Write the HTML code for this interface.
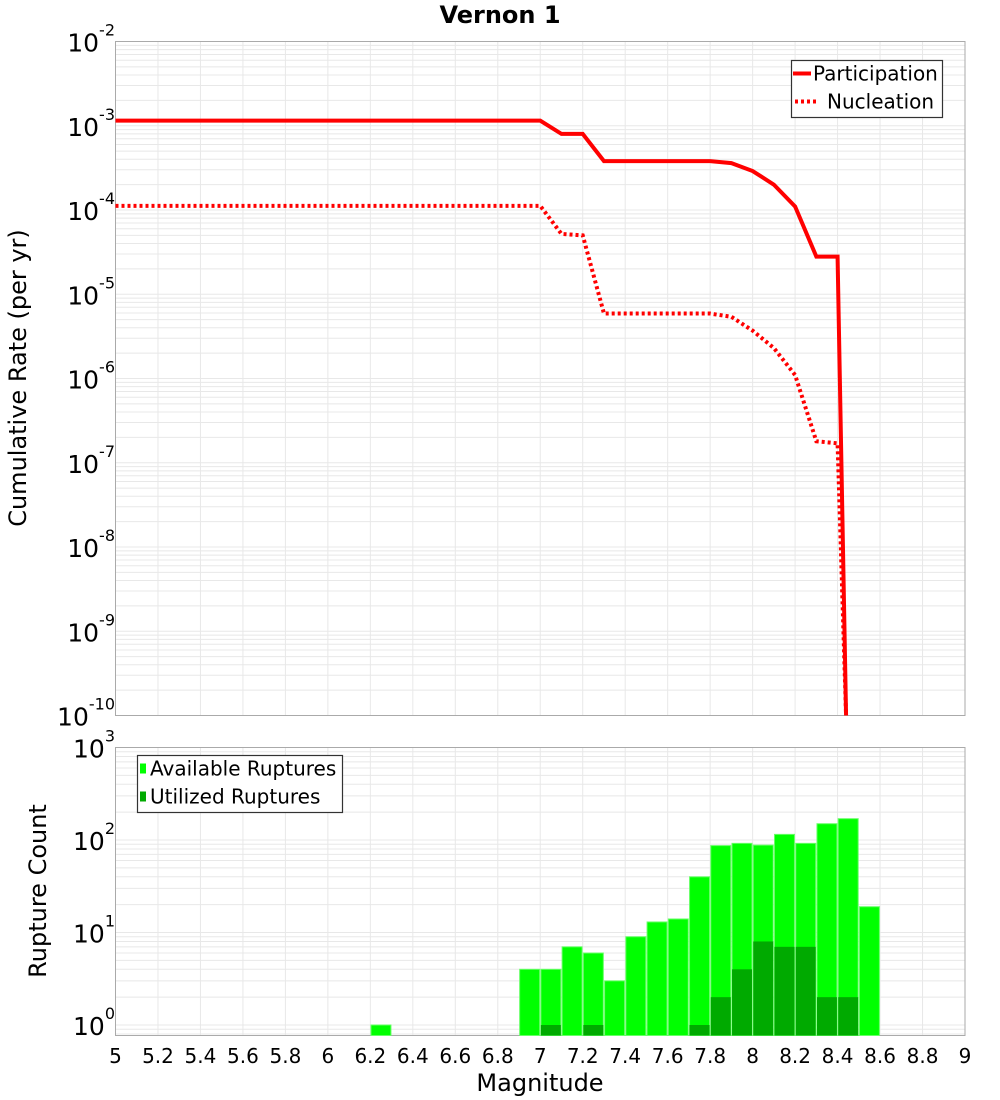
<!DOCTYPE html>
<html><head><meta charset="utf-8"><style>
html,body{margin:0;padding:0;background:#fff;}
svg{display:block;font-family:"DejaVu Sans","Liberation Sans",sans-serif;}
</style></head><body>
<svg id="chart" width="1000" height="1100" xmlns="http://www.w3.org/2000/svg">
<text x="500" y="23" text-anchor="middle" font-size="24" font-weight="bold">Vernon 1</text>
<g id="topPlot"></g>
<g id="botPlot"></g>
<text transform="translate(26,378) rotate(-90)" text-anchor="middle" font-size="24">Cumulative Rate (per yr)</text>
<text transform="translate(46,891) rotate(-90)" text-anchor="middle" font-size="24">Rupture Count</text>
<text x="540" y="1091" text-anchor="middle" font-size="24">Magnitude</text>
</svg>
<script>
const partMags = [5.0,7.0,7.1,7.2,7.3,7.8,7.9,8.0,8.1,8.2,8.3,8.4,8.44];
const partRates = [1.15e-3,1.15e-3,8e-4,8e-4,3.8e-4,3.8e-4,3.6e-4,2.9e-4,2.0e-4,1.1e-4,2.8e-5,2.8e-5,1e-10];
const nuclMags = [5.0,7.0,7.1,7.2,7.3,7.8,7.9,8.0,8.1,8.2,8.3,8.4,8.44];
const nuclRates = [1.12e-4,1.12e-4,5.2e-5,5.0e-5,5.9e-6,5.9e-6,5.4e-6,3.7e-6,2.3e-6,1.1e-6,1.8e-7,1.7e-7,1e-10];
const binCenters = [6.25,6.95,7.05,7.15,7.25,7.35,7.45,7.55,7.65,7.75,7.85,7.95,8.05,8.15,8.25,8.35,8.45,8.55];
const availCounts = [1,4,4,7,6,3,9,13,14,40,87,92,88,115,92,150,170,19];
const usedCounts = [0,0,1,0,1,0,0,0,0,1,2,4,8,7,7,2,2,0];
const xTicks = [5,5.2,5.4,5.6,5.8,6,6.2,6.4,6.6,6.8,7,7.2,7.4,7.6,7.8,8,8.2,8.4,8.6,8.8,9];
const topExps = [-2,-3,-4,-5,-6,-7,-8,-9,-10];
const botExps = [3,2,1,0];

const NS="http://www.w3.org/2000/svg";
const X0=115.5,X1=965, XMIN=5,XMAX=9;
const xs=v=>X0+(v-XMIN)/(XMAX-XMIN)*(X1-X0);
const TY0=41.5,TY1=715.5;
const yTop=v=>TY0+(-2-Math.log10(v))/8*(TY1-TY0);
const BY0=747.5,BY1=1035.5,B10=1025;
const yBot=v=>B10-Math.log10(v)*(B10-BY0)/3;
function el(tag,attrs,parent){const e=document.createElementNS(NS,tag);for(const k in attrs)e.setAttribute(k,attrs[k]);parent.appendChild(e);return e;}
const gTop=document.getElementById('topPlot'),gBot=document.getElementById('botPlot');

function grid(g,y0,y1,yf,emin,emax){
  for(const t of xTicks){const l=el('line',{x1:xs(t),x2:xs(t),y1:y0,y2:y1,stroke:'#e8e8e8','stroke-width':1},g);
    
    }
  for(let e=emin;e<emax;e++)for(let m=1;m<10;m++){const yy=yf(m*Math.pow(10,e));if(yy<y0||yy>y1)continue;
    const l=el('line',{x1:X0,x2:X1,y1:yy,y2:yy,stroke:'#e8e8e8','stroke-width':1},g);
    
    }
  const r=el('rect',{x:X0,y:y0,width:X1-X0,height:y1-y0,fill:'none',stroke:'#aaa','stroke-width':1},g);
  
  
}
grid(gTop,TY0,TY1,yTop,-10,-2);
grid(gBot,BY0,BY1,yBot,-1,3);

function yLabel(g,yy,e){const t=el('text',{x:101,y:yy+10,'text-anchor':'end','font-size':25},g);
  
  
  t.textContent='10';
  const s=el('tspan',{dy:-16,'font-size':16},t);s.textContent=String(e);
  t.setAttribute('transform','translate(14,0)');}
for(const e of topExps)yLabel(gTop,yTop(Math.pow(10,e)),e);
for(const e of botExps)yLabel(gBot,yBot(Math.pow(10,e)),e);
for(const t of xTicks){const tx=el('text',{x:xs(t),y:1063,'text-anchor':'middle','font-size':20},gBot);
  
  
  tx.textContent=String(t);}

const defs=el('defs',{},gTop);const cp=el('clipPath',{id:'tc'},defs);el('rect',{x:X0,y:TY0,width:X1-X0,height:TY1-TY0},cp);
function line(ms,rs,dash,name){const p=el('polyline',{points:ms.map((m,i)=>xs(m)+','+yTop(rs[i])).join(' '),fill:'none',stroke:'#ff0000','stroke-width':4,'clip-path':'url(#tc)'},gTop);
  if(dash)p.setAttribute('stroke-dasharray','3,3');
  
  }
line(nuclMags,nuclRates,true,'nucleation-line');
line(partMags,partRates,false,'participation-line');

binCenters.forEach((c,i)=>{
  const bx=xs(c-0.047),bw=xs(c+0.047)-bx;
  if(availCounts[i]>0){const yy=yBot(availCounts[i]);const r=el('rect',{x:bx,y:yy,width:bw,height:BY1-yy,fill:'#00ff00',stroke:'#66ff66','stroke-width':1},gBot);
    
    }
  if(usedCounts[i]>0){const yy=yBot(usedCounts[i]);const r=el('rect',{x:bx,y:yy,width:bw,height:BY1-yy,fill:'#00aa00'},gBot);
    
    }
});

function legend(g,bx,by,bw,bh,items,name){const lg=el('g',{},g);
  
  
  el('rect',{x:bx,y:by,width:bw,height:bh,fill:'#fff',stroke:'#333','stroke-width':1.2},lg);
  items.forEach((it,i)=>{const cy=by+13+i*28;it.draw(lg,cy);const t=el('text',{x:it.tx,y:cy+7,'font-size':20},lg);
    
    
    t.textContent=it.label;});}
legend(gTop,791.5,60.5,151,57,[
  {label:'Participation',tx:813,draw:(g,cy)=>el('line',{x1:793,x2:811,y1:cy,y2:cy,stroke:'#f00','stroke-width':4},g)},
  {label:'Nucleation',tx:827,draw:(g,cy)=>el('line',{x1:795,x2:819,y1:cy,y2:cy,stroke:'#f00','stroke-width':4,'stroke-dasharray':'3,3'},g)}
],'rate-legend');
legend(gBot,137.5,755.5,205,57,[
  {label:'Available Ruptures',tx:150,draw:(g,cy)=>el('rect',{x:140,y:cy-5,width:6,height:10,fill:'#00ff00'},g)},
  {label:'Utilized Ruptures',tx:150,draw:(g,cy)=>el('rect',{x:140,y:cy-5,width:6,height:10,fill:'#00aa00'},g)}
],'count-legend');
</script>
</body></html>
